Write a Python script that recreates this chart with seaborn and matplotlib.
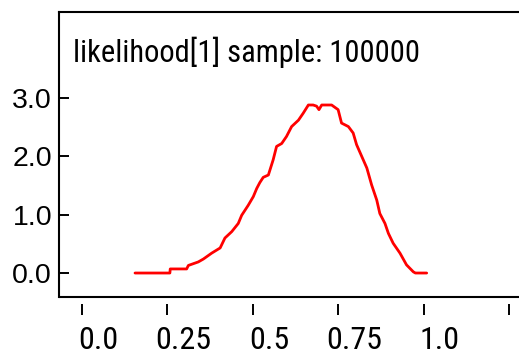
import matplotlib.pyplot as plt
import matplotlib.transforms as mtransforms
import seaborn as sns
import pandas as pd

# density trace
theta = [0.155, 0.257, 0.258, 0.306, 0.311, 0.340, 0.355, 0.379, 0.404, 0.418,
         0.438, 0.457, 0.467, 0.486, 0.501, 0.511, 0.520, 0.530, 0.545, 0.559,
         0.569, 0.584, 0.598, 0.613, 0.633, 0.647, 0.662, 0.676, 0.686, 0.693,
         0.701, 0.715, 0.730, 0.749, 0.759, 0.779, 0.793, 0.803, 0.818, 0.833,
         0.847, 0.862, 0.871, 0.886, 0.896, 0.910, 0.930, 0.949, 0.969, 0.975,
         1.008]
density = [0.00, 0.00, 0.07, 0.07, 0.13, 0.19, 0.24, 0.34, 0.43, 0.60,
           0.71, 0.85, 0.99, 1.16, 1.31, 1.45, 1.55, 1.64, 1.68, 1.94,
           2.17, 2.22, 2.34, 2.51, 2.62, 2.74, 2.88, 2.88, 2.86, 2.80,
           2.88, 2.88, 2.88, 2.80, 2.57, 2.51, 2.40, 2.20, 2.00, 1.80,
           1.51, 1.25, 1.02, 0.85, 0.68, 0.51, 0.34, 0.14, 0.02, 0.00,
           0.00]

xticks = [0.0, 0.25, 0.5, 0.75, 1.0, 1.25]
xtick_labels = ['0.0', '0.25', '0.5', '0.75', '1.0', '']
yticks = [0.0, 1.0, 2.0, 3.0]
ytick_labels = ['0.0', '1.0', '2.0', '3.0']
title = 'likelihood[1] sample: 100000'

df = pd.DataFrame({'theta': theta, 'density': density})

sns.set_style('white')
plt.rcParams['font.family'] = ['Liberation Sans', 'DejaVu Sans']
plt.rcParams['text.color'] = 'black'
narrow = ['Roboto Condensed', 'Liberation Sans', 'DejaVu Sans']

fig = plt.figure(figsize=(5.19, 3.54), dpi=100)
ax = fig.add_axes([59 / 519, 1 - 297 / 354, 460 / 519, 285 / 354])

sns.lineplot(data=df, x='theta', y='density', color='red', linewidth=2,
             sort=False, ax=ax)

for side in ['left', 'top', 'bottom']:
    ax.spines[side].set_color('black')
    ax.spines[side].set_linewidth(1.5)
ax.spines['right'].set_visible(False)
# ticks hang below the frame with a small gap
ax.spines['bottom'].set_position(('outward', 5))
ax.spines['bottom'].set_visible(False)
ax.plot([0, 1], [0, 0], transform=ax.transAxes, color='black',
        linewidth=1.5, clip_on=False)

ax.set_xlim(-0.0673, 1.278)
ax.set_ylim(-0.411, 4.474)
ax.set_xlabel('')
ax.set_ylabel('')

ax.tick_params(axis='x', direction='out', length=8, width=1.4, pad=8,
               colors='black', bottom=True)
ax.tick_params(axis='y', direction='in', length=7, width=1.4, pad=5,
               colors='black', left=True)

ax.set_xticks(xticks)
ax.set_xticklabels(xtick_labels, fontsize=23, family=narrow)
ax.set_yticks(yticks)
ax.set_yticklabels(ytick_labels, fontsize=20.5)

# x labels sit a bit right of their ticks
shift = mtransforms.ScaledTranslation(16 / 100, 0, fig.dpi_scale_trans)
for lab in ax.get_xticklabels():
    lab.set_transform(lab.get_transform() + shift)

ax.text(0.030, 0.8246, title, transform=ax.transAxes, fontsize=22,
        family=narrow, va='baseline', ha='left')

fig.savefig('out.png', dpi=100)
